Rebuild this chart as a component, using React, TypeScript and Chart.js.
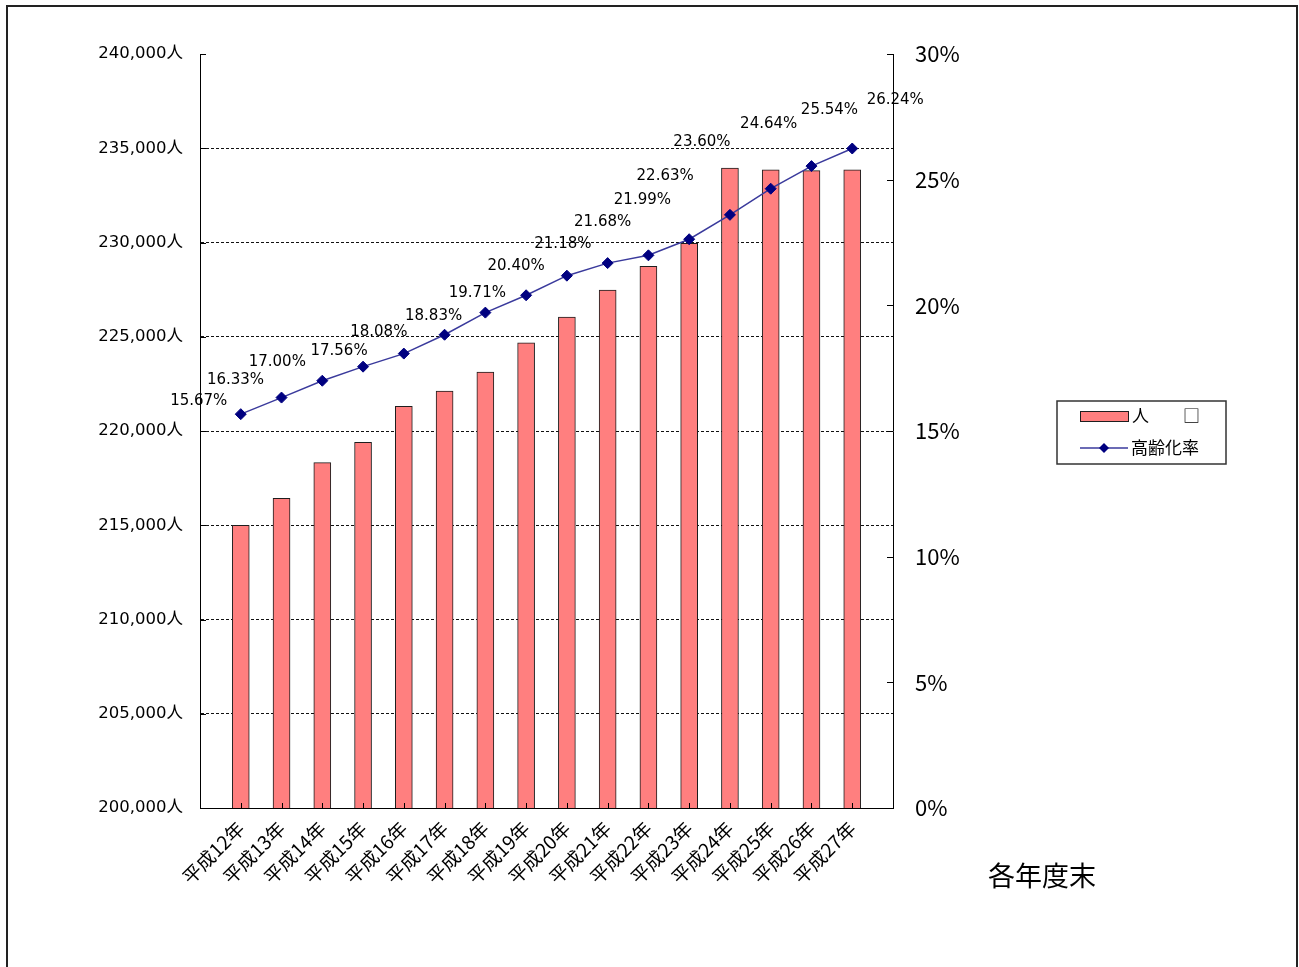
import React, { useEffect, useRef } from 'react';
import { Chart, registerables } from 'chart.js';

Chart.register(...registerables);

// ---- data ----
const categories = [
  '平成12年', '平成13年', '平成14年', '平成15年', '平成16年', '平成17年', '平成18年', '平成19年',
  '平成20年', '平成21年', '平成22年', '平成23年', '平成24年', '平成25年', '平成26年', '平成27年',
];
const population = [
  215000, 216430, 218320, 219400, 221310, 222120, 223130, 224680,
  226040, 227480, 228730, 229950, 233950, 233860, 233810, 233860,
];
const agingRate = [
  15.67, 16.33, 17.0, 17.56, 18.08, 18.83, 19.71, 20.4,
  21.18, 21.68, 21.99, 22.63, 23.6, 24.64, 25.54, 26.24,
];
// label position relative to each point (dx, dy), as placed in the source
const rateLabelDx = [-42, -46, -45, -24, -25, -11, -8, -10, -4, -5, -6, -24, -28, -2, 18, 43];
const rateLabelDy = [-13, -17, -19, -16, -21, -19, -20, -29, -32, -41, -55, -63, -73, -65, -56, -48];

const popMin = 200000;
const popMax = 240000;
const popStep = 5000;
const rateMin = 0;
const rateMax = 30;
const rateStep = 5;

const seriesNames = ['人\u3000\u3000□', '高齢化率'];
const footnote = '各年度末';

const BAR_FILL = '#FF7F7F';
const BAR_EDGE = '#1e1e1e';
const LINE_COLOR = '#3a3a9c';
const MARK_COLOR = '#000080';
const LATIN = "'DejaVu Sans', 'Noto Sans CJK JP', sans-serif";
const CJK = "'Noto Sans CJK JP', sans-serif";

const fmtPop = (v: number) => String(Math.round(v)).replace(/\B(?=(\d{3})+(?!\d))/g, ',') + '人';

const decorPlugin = {
  id: 'decor',
  afterDatasetsDraw(chart: any) {
    const ctx = chart.ctx;
    const meta = chart.getDatasetMeta(1);
    ctx.save();
    ctx.fillStyle = '#000';
    ctx.font = `15px ${LATIN}`;
    ctx.textAlign = 'center';
    ctx.textBaseline = 'middle';
    meta.data.forEach((pt: any, i: number) => {
      ctx.fillText(agingRate[i].toFixed(2) + '%', pt.x + rateLabelDx[i], pt.y + rateLabelDy[i]);
    });
    ctx.restore();
  },
  afterDraw(chart: any) {
    const ctx = chart.ctx;
    const { x, y, y1 } = chart.scales;
    ctx.save();
    // inward tick marks
    ctx.strokeStyle = '#000';
    ctx.lineWidth = 1;
    ctx.beginPath();
    y.ticks.forEach((t: any) => {
      const py = Math.round(y.getPixelForValue(t.value)) + 0.5;
      ctx.moveTo(y.right, py);
      ctx.lineTo(y.right + 6, py);
    });
    y1.ticks.forEach((t: any) => {
      const py = Math.round(y1.getPixelForValue(t.value)) + 0.5;
      ctx.moveTo(y1.left - 6, py);
      ctx.lineTo(y1.left, py);
    });
    x.ticks.forEach((t: any) => {
      const px = Math.round(x.getPixelForValue(t.value)) + 0.5;
      ctx.moveTo(px, x.top);
      ctx.lineTo(px, x.top - 5);
    });
    ctx.stroke();

    // legend
    const lx = 1057, ly = 401, lw = 169, lh = 63;
    ctx.lineWidth = 1.5;
    ctx.strokeStyle = '#333';
    ctx.strokeRect(lx, ly, lw, lh);
    const ds0 = chart.data.datasets[0];
    const ds1 = chart.data.datasets[1];
    ctx.fillStyle = ds0.backgroundColor;
    ctx.fillRect(1080, 411, 48, 10);
    ctx.lineWidth = 1;
    ctx.strokeStyle = ds0.borderColor;
    ctx.strokeRect(1080.5, 411.5, 48, 10);
    ctx.fillStyle = '#000';
    ctx.font = `17px ${CJK}`;
    ctx.textAlign = 'left';
    ctx.textBaseline = 'middle';
    ctx.fillText(seriesNames[0], 1132, 416);
    ctx.strokeStyle = ds1.borderColor;
    ctx.lineWidth = 1.5;
    ctx.beginPath();
    ctx.moveTo(1080, 448);
    ctx.lineTo(1128, 448);
    ctx.stroke();
    ctx.fillStyle = ds1.pointBackgroundColor;
    ctx.beginPath();
    ctx.moveTo(1104, 443);
    ctx.lineTo(1109, 448);
    ctx.lineTo(1104, 453);
    ctx.lineTo(1099, 448);
    ctx.closePath();
    ctx.fill();
    ctx.fillStyle = '#000';
    ctx.fillText(seriesNames[1], 1131, 448);

    // footnote
    ctx.font = `27px ${CJK}`;
    ctx.fillText(footnote, 988, 876);

    // outer frame
    ctx.lineWidth = 2;
    ctx.strokeStyle = '#222';
    ctx.strokeRect(7, 6, 1290, 1000);
    ctx.restore();
  },
};

export default function App() {
  const ref = useRef<HTMLCanvasElement | null>(null);

  useEffect(() => {
    if (!ref.current) return;
    const chart = new Chart(ref.current, {
      type: 'bar',
      data: {
        datasets: [
          {
            type: 'bar',
            label: seriesNames[0],
            data: population.map((v, i) => ({ x: i, y: v })),
            backgroundColor: BAR_FILL,
            borderColor: BAR_EDGE,
            borderWidth: 1,
            barThickness: 17,
            yAxisID: 'y',
            order: 2,
          } as any,
          {
            type: 'line',
            label: seriesNames[1],
            data: agingRate.map((v, i) => ({ x: i, y: v })),
            borderColor: LINE_COLOR,
            borderWidth: 1.5,
            pointStyle: 'rectRot',
            pointRadius: 5.5,
            pointBackgroundColor: MARK_COLOR,
            pointBorderColor: MARK_COLOR,
            pointBorderWidth: 1,
            tension: 0,
            yAxisID: 'y1',
            order: 1,
          } as any,
        ],
      },
      options: {
        responsive: false,
        animation: false,
        devicePixelRatio: 1,
        layout: { padding: { left: 10, right: 306, top: 54, bottom: 59 } },
        plugins: {
          legend: { display: false },
          tooltip: { enabled: false },
        },
        scales: {
          x: {
            type: 'linear',
            offset: false,
            min: -1,
            max: categories.length,
            grid: { display: false, drawTicks: false, offset: false },
            border: { display: true, color: '#000', width: 1 },
            afterBuildTicks: (s: any) => {
              s.ticks = categories.map((_, i) => ({ value: i }));
            },
            afterFit: (s: any) => {
              s.height = 100;
            },
            ticks: {
              autoSkip: false,
              minRotation: 45,
              maxRotation: 45,
              padding: 9,
              color: '#000',
              font: { family: CJK, size: 19 },
              callback: (v: any) => categories[v] ?? '',
            },
          } as any,
          y: {
            position: 'left',
            min: popMin,
            max: popMax,
            afterFit: (s: any) => {
              s.width = 190;
            },
            grid: {
              drawTicks: false,
              color: (c: any) =>
                c.tick && (c.tick.value === popMax || c.tick.value === popMin) ? 'rgba(0,0,0,0)' : '#111',
              lineWidth: 1,
            },
            border: { display: true, color: '#000', width: 1, dash: [3, 2] },
            ticks: {
              stepSize: popStep,
              padding: 17,
              color: '#000',
              font: { family: LATIN, size: 16.5 },
              callback: (v: any) => fmtPop(v),
            },
          } as any,
          y1: {
            position: 'right',
            min: rateMin,
            max: rateMax,
            afterFit: (s: any) => {
              s.width = 100;
            },
            grid: { display: false, drawOnChartArea: false, drawTicks: false },
            border: { display: true, color: '#000', width: 1 },
            ticks: {
              stepSize: rateStep,
              padding: 22,
              color: '#000',
              font: { family: CJK, size: 22 },
              callback: (v: any) => v + '%',
            },
          } as any,
        },
      },
      plugins: [decorPlugin],
    });
    return () => chart.destroy();
  }, []);

  return (
    <div style={{ position: 'fixed', left: 0, top: 0, width: 1299, height: 967, background: '#fff' }}>
      <canvas ref={ref} width={1299} height={967} style={{ width: 1299, height: 967, display: 'block' }} />
    </div>
  );
}
